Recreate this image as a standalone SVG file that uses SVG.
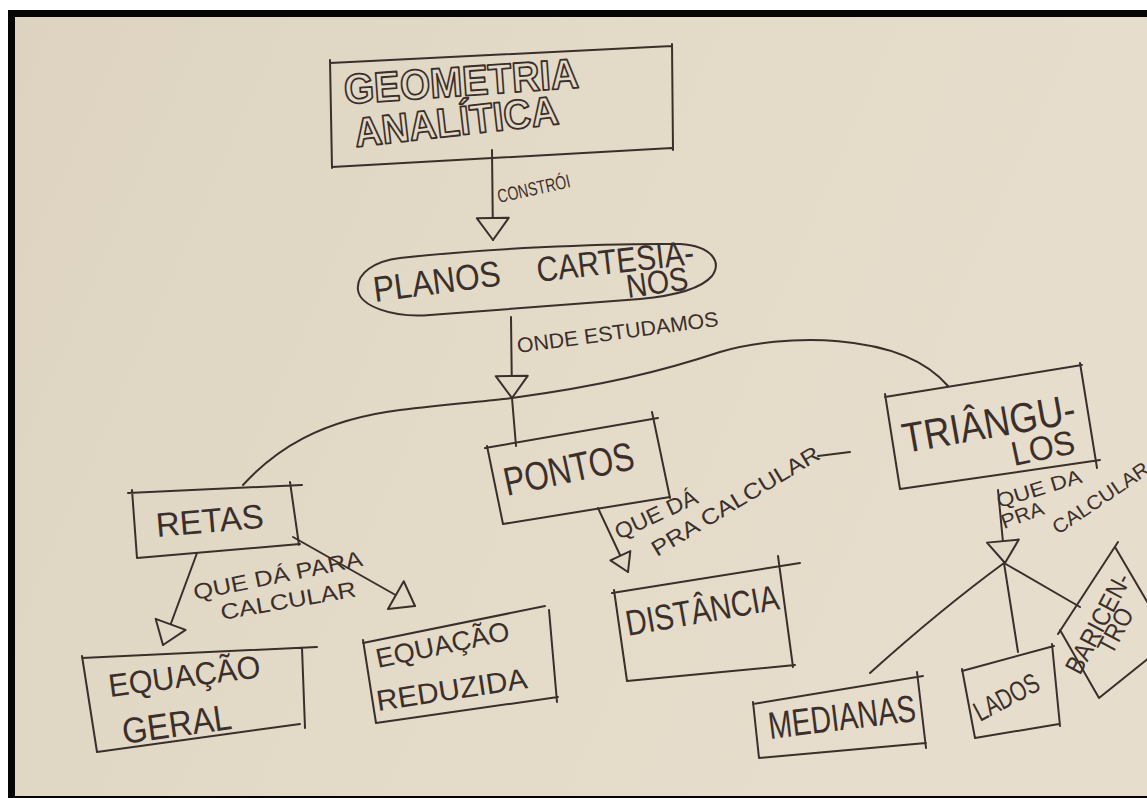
<svg xmlns="http://www.w3.org/2000/svg" width="1147" height="798" viewBox="0 0 1147 798">
  <defs>
    <linearGradient id="paper" x1="0" y1="0" x2="1" y2="0.3">
      <stop offset="0" stop-color="#ddd3c0"/>
      <stop offset="0.5" stop-color="#e3dac8"/>
      <stop offset="1" stop-color="#e6ddcc"/>
    </linearGradient>
    <!-- hollow pen-drawn arrowheads -->
    <marker id="tri" markerUnits="userSpaceOnUse" markerWidth="28" markerHeight="36" viewBox="0 0 28 36" refX="24" refY="18" orient="auto">
      <path d="M2,2 L24,18 L2,34 Z" fill="#e2d9c7" stroke="#3b2f2b" stroke-width="2" stroke-linejoin="round"/>
    </marker>
    <marker id="triS" markerUnits="userSpaceOnUse" markerWidth="24" markerHeight="28" viewBox="0 0 24 28" refX="20" refY="14" orient="auto">
      <path d="M2,3 L20,14 L2,25 Z" fill="#e2d9c7" stroke="#3b2f2b" stroke-width="2" stroke-linejoin="round"/>
    </marker>
    <style>
      .ink { fill: none; stroke: #3b2f2b; stroke-width: 2; stroke-linecap: round; stroke-linejoin: round; }
      .txt { font-family: "Liberation Sans", Arial, sans-serif; fill: #3b2f2b; }
      .bubble { font-family: "Liberation Sans", Arial, sans-serif; font-weight: bold; fill: #e2d9c7; stroke: #3b2f2b; stroke-width: 1.8; stroke-linejoin: round; }
      .lbl { font-size: 22px; }
    </style>
  </defs>

  <!-- photo frame and paper -->
  <rect x="0" y="0" width="1147" height="798" fill="#ffffff"/>
  <rect x="8" y="10" width="1139" height="788" fill="#050505"/>
  <rect x="15" y="17" width="1132" height="779" fill="url(#paper)"/>

  <!-- connectors -->
  <g id="connectors" class="ink">
    <path d="M492,150 L493,240" marker-end="url(#tri)"/>
    <path d="M243,485 C 275,450 320,420 400,410 C 450,404 490,401 512,398 C 600,386 660,372 720,352 C 780,334 900,330 948,386"/>
    <path d="M511,317 L512,398" marker-end="url(#tri)"/>
    <path d="M512,398 L516,446"/>
    <path d="M197,553 L163,645" marker-end="url(#tri)"/>
    <path d="M293,537 L415,606" marker-end="url(#tri)"/>
    <path d="M598,508 L628,572" marker-end="url(#triS)"/>
    <path d="M998,490 L1005,563" marker-end="url(#tri)"/>
    <path d="M1004,563 Q 940,610 870,673"/>
    <path d="M1004,563 L1018,652"/>
    <path d="M1004,563 L1080,607"/>
  </g>

  <!-- connector labels -->
  <g id="labels" class="txt">
    <text transform="translate(499,203) rotate(-12.5)" font-size="19" textLength="74" lengthAdjust="spacingAndGlyphs">CONSTRÓI</text>
    <text transform="translate(518,353) rotate(-7.7)" font-size="21" textLength="203" lengthAdjust="spacingAndGlyphs">ONDE ESTUDAMOS</text>
    <text class="lbl" transform="translate(195,600) rotate(-11.5)" textLength="172" lengthAdjust="spacingAndGlyphs">QUE DÁ PARA</text>
    <text class="lbl" transform="translate(222,620) rotate(-10)" textLength="137" lengthAdjust="spacingAndGlyphs">CALCULAR</text>
    <text class="lbl" transform="translate(619,540) rotate(-25)" textLength="89" lengthAdjust="spacingAndGlyphs">QUE DÁ</text>
    <text class="lbl" transform="translate(657,557) rotate(-31)" textLength="192" lengthAdjust="spacingAndGlyphs">PRA CALCULAR</text>
    <path class="ink" d="M818,456 L850,452"/>
    <text transform="translate(999,508) rotate(-17)" font-size="20" textLength="88" lengthAdjust="spacingAndGlyphs">QUE DA</text>
    <text transform="translate(1004,529) rotate(-20)" font-size="20" textLength="44" lengthAdjust="spacingAndGlyphs">PRA</text>
    <text transform="translate(1058,535) rotate(-34)" font-size="20" textLength="112" lengthAdjust="spacingAndGlyphs">CALCULAR</text>
  </g>

  <g id="geometria-analitica">
    <path class="ink" d="M330,63 L672,46 M330,60 L332,168 M332,167 L672,148 M672,44 L673,150"/>
    <text class="bubble" transform="translate(345,104) rotate(-4)" font-size="42" textLength="235" lengthAdjust="spacingAndGlyphs">GEOMETRIA</text>
    <text class="bubble" transform="translate(356,147) rotate(-6.5)" font-size="41" textLength="205" lengthAdjust="spacingAndGlyphs">ANALÍTICA</text>
  </g>

  <g id="planos-cartesianos">
    <path class="ink" d="M400,258 C 480,249 600,243 680,244 C 712,246 722,262 712,276 C 700,290 672,296 640,299 L 430,315 C 392,318 360,306 358,290 C 356,273 375,261 400,258 Z"/>
    <text class="txt" transform="translate(375,302) rotate(-7.5)" font-size="36" textLength="128" lengthAdjust="spacingAndGlyphs">PLANOS</text>
    <text class="txt" transform="translate(538,282) rotate(-6.5)" font-size="35" textLength="158" lengthAdjust="spacingAndGlyphs">CARTESIA-</text>
    <text class="txt" transform="translate(628,298) rotate(-8)" font-size="33" textLength="62" lengthAdjust="spacingAndGlyphs">NOS</text>
  </g>

  <g id="retas">
    <path class="ink" d="M128,493 L302,485 M132,490 L137,558 M137,558 L300,544 M290,482 L299,545"/>
    <text class="txt" transform="translate(157,537) rotate(-5)" font-size="34" textLength="108" lengthAdjust="spacingAndGlyphs">RETAS</text>
  </g>

  <g id="pontos">
    <path class="ink" d="M485,448 L658,418 M487,446 L503,524 M503,524 L670,497 M652,412 L670,498"/>
    <text class="txt" transform="translate(507,496) rotate(-12)" font-size="40" textLength="132" lengthAdjust="spacingAndGlyphs">PONTOS</text>
  </g>

  <g id="triangulos">
    <path class="ink" d="M885,397 L1082,365 M885,394 L900,489 M900,489 L1100,460 M1080,363 L1097,468"/>
    <text class="txt" transform="translate(905,453) rotate(-10)" font-size="42" textLength="175" lengthAdjust="spacingAndGlyphs">TRIÂNGU-</text>
    <text class="txt" transform="translate(1014,466) rotate(-12)" font-size="34" textLength="64" lengthAdjust="spacingAndGlyphs">LOS</text>
  </g>

  <g id="equacao-geral">
    <path class="ink" d="M82,658 L317,647 M82,656 L97,752 M97,752 L300,724 M302,648 L305,728"/>
    <text class="txt" transform="translate(110,697) rotate(-7.5)" font-size="32" textLength="153" lengthAdjust="spacingAndGlyphs">EQUAÇÃO</text>
    <text class="txt" transform="translate(124,744) rotate(-8)" font-size="36" textLength="110" lengthAdjust="spacingAndGlyphs">GERAL</text>
  </g>

  <g id="equacao-reduzida">
    <path class="ink" d="M363,643 L545,606 M363,640 L376,723 M376,723 L558,697 M549,610 L557,702"/>
    <text class="txt" transform="translate(378,668) rotate(-12)" font-size="27" textLength="136" lengthAdjust="spacingAndGlyphs">EQUAÇÃO</text>
    <text class="txt" transform="translate(378,711) rotate(-8.7)" font-size="29" textLength="152" lengthAdjust="spacingAndGlyphs">REDUZIDA</text>
  </g>

  <g id="distancia">
    <path class="ink" d="M612,593 L800,563 M614,590 L627,681 M627,681 L795,665 M778,556 L793,667"/>
    <text class="txt" transform="translate(628,636) rotate(-10)" font-size="36" textLength="155" lengthAdjust="spacingAndGlyphs">DISTÂNCIA</text>
  </g>

  <g id="medianas">
    <path class="ink" d="M753,704 L923,676 M753,702 L759,758 M759,758 L926,743 M917,672 L926,748"/>
    <text class="txt" transform="translate(770,739) rotate(-7)" font-size="38" textLength="148" lengthAdjust="spacingAndGlyphs">MEDIANAS</text>
  </g>

  <g id="lados">
    <path class="ink" d="M962,671 L1054,646 M962,669 L975,738 M975,738 L1059,724 M1052,644 L1060,726"/>
    <text class="txt" transform="translate(980,722) rotate(-28)" font-size="28" textLength="70" lengthAdjust="spacingAndGlyphs">LADOS</text>
  </g>

  <g id="baricentro">
    <path class="ink" d="M1058,634 L1118,542 M1115,547 L1152,610 M1060,630 L1099,698 L1150,657"/>
    <text class="txt" transform="translate(1080,676) rotate(-62)" font-size="26" textLength="110" lengthAdjust="spacingAndGlyphs">BARICEN-</text>
    <text class="txt" transform="translate(1112,656) rotate(-62)" font-size="26" textLength="48" lengthAdjust="spacingAndGlyphs">TRO</text>
  </g>
</svg>
